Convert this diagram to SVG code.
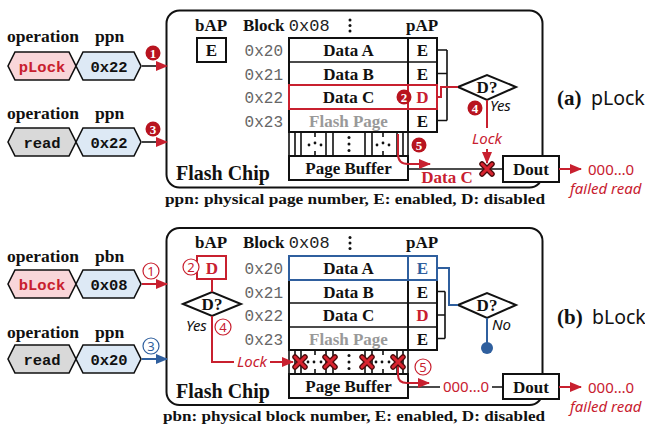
<svg xmlns="http://www.w3.org/2000/svg" width="645" height="428" viewBox="0 0 645 428">
<style>
.ser{font-family:"Liberation Serif",serif;font-weight:bold;fill:#111}
.lab{font-size:17.5px}
.hd{font-size:17px}
.cell{font-size:17px;text-anchor:middle}
.mono{font-family:"Liberation Mono",monospace;font-weight:bold;font-size:15.5px;text-anchor:middle;fill:#111}
.mn{font-family:"Liberation Mono",monospace;font-weight:normal;fill:#222}
.addr{font-family:"Liberation Mono",monospace;font-size:16px;fill:#666;text-anchor:end}
.it{font-family:"Noto Sans",sans-serif;font-style:italic;font-size:15px;fill:#111}
.sans{font-family:"Noto Sans",sans-serif}
.red{fill:#c8202f}
.blue{fill:#2f5f9e}
.gray{fill:#999}
.box{fill:#fff;stroke:#111;stroke-width:2}
.ln{fill:none;stroke:#111;stroke-width:1.6}
.rl{fill:none;stroke:#c8202f;stroke-width:2}
.bl{fill:none;stroke:#2f5f9e;stroke-width:2}
.chip{fill:#fff;stroke:#111;stroke-width:2}
.hexp{fill:#f9d6d9;stroke:#111;stroke-width:1.6}
.hexb{fill:#dde9f5;stroke:#111;stroke-width:1.6}
.hexg{fill:#d9d9d9;stroke:#111;stroke-width:1.6}
.fc{fill:#b8141f}
.fcn{font-family:"Liberation Serif",serif;font-weight:bold;font-size:13px;fill:#fff;text-anchor:middle}
.oc{fill:#fff;stroke-width:1.2}
.ocn{font-family:"Noto Sans",sans-serif;font-size:13px;text-anchor:middle}
.xo{fill:none;stroke:#4a0a0a;stroke-width:5.5;stroke-linecap:round}
.xi{fill:none;stroke:#d8232f;stroke-width:3;stroke-linecap:round}
.dot{fill:#111}
</style>
<defs>
<marker id="ar" markerUnits="userSpaceOnUse" markerWidth="12" markerHeight="10" refX="11" refY="5" orient="auto"><path d="M0,0 L12,5 L0,10 z" fill="#c8202f"/></marker>
<marker id="ab" markerUnits="userSpaceOnUse" markerWidth="12" markerHeight="10" refX="11" refY="5" orient="auto"><path d="M0,0 L12,5 L0,10 z" fill="#2f5f9e"/></marker>
<g id="xm"><path class="xo" d="M-5,-5L5,5M5,-5L-5,5"/><path class="xi" d="M-5,-5L5,5M5,-5L-5,5"/></g>
<g id="bits">
<path class="ln" d="M295,0V24M301,0V24M326,0V24M333,0V24M365,0V24M372,0V24M397,0V24M403,0V24M315,0V5M315,19V24M383,0V5M383,19V24"/>
<circle class="dot" cx="349" cy="5.5" r="1.5"/><circle class="dot" cx="349" cy="12" r="1.5"/><circle class="dot" cx="349" cy="18.5" r="1.5"/>
</g>
</defs>

<!-- ================= PANEL A ================= -->
<g id="inputs-a">
<text class="ser lab" x="7" y="42">operation</text>
<text class="ser lab" x="95" y="42">ppn</text>
<polygon class="hexp" points="8,66 15,52 69,52 76,66 69,80 15,80"/>
<text class="mono red" x="42" y="71.5">pLock</text>
<polygon class="hexb" points="76,66 83,52 134,52 141,66 134,80 83,80"/>
<text class="mono" x="109" y="71.5">0x22</text>
<text class="ser lab" x="7" y="119">operation</text>
<text class="ser lab" x="95" y="119">ppn</text>
<polygon class="hexg" points="8,142 15,128 69,128 76,142 69,156 15,156"/>
<text class="mono" x="42" y="147.5">read</text>
<polygon class="hexb" points="76,142 83,128 134,128 141,142 134,156 83,156"/>
<text class="mono" x="109" y="147.5">0x22</text>
</g>

<g id="chip-a">
<rect class="chip" x="166.5" y="10.5" width="376" height="177" rx="13"/>
<text class="ser hd" x="211" y="31" text-anchor="middle">bAP</text>
<text class="ser hd" x="243" y="31">Block <tspan class="mn">0x08</tspan></text>
<circle class="dot" cx="350" cy="20" r="1.5"/><circle class="dot" cx="350" cy="25.5" r="1.5"/><circle class="dot" cx="350" cy="31" r="1.5"/>
<text class="ser hd" x="422" y="31" text-anchor="middle">pAP</text>
<rect class="box" x="197" y="38" width="29" height="24"/>
<text class="ser cell" x="211.5" y="56">E</text>
<text class="addr" x="283" y="56">0x20</text>
<text class="addr" x="283" y="79.5">0x21</text>
<text class="addr" x="283" y="103">0x22</text>
<text class="addr" x="283" y="126.5">0x23</text>
<rect class="box" x="289" y="38" width="119" height="94"/>
<rect class="box" x="408" y="38" width="29" height="94"/>
<path class="ln" d="M289,62H437M289,85H437M289,109H437" stroke-width="2"/>
<text class="ser cell" x="348.5" y="56">Data A</text>
<text class="ser cell" x="348.5" y="79.5">Data B</text>
<text class="ser cell" x="348.5" y="103">Data C</text>
<text class="ser cell gray" x="348.5" y="126.5">Flash Page</text>
<text class="ser cell" x="422.5" y="56">E</text>
<text class="ser cell" x="422.5" y="79.5">E</text>
<text class="ser cell red" x="422.5" y="103">D</text>
<text class="ser cell" x="422.5" y="126.5">E</text>
<rect x="289" y="85" width="148" height="24" fill="none" stroke="#c8202f" stroke-width="2"/>
<path d="M408,85V109" stroke="#c8202f" stroke-width="2"/>
<circle class="fc" cx="404" cy="97" r="7.5"/><text class="fcn" x="404" y="101.5">2</text>
<path class="ln" d="M289,132V156M408,132V156"/>
<use href="#bits" y="132"/>
<circle class="dot" cx="309" cy="145" r="1.4"/><circle class="dot" cx="315" cy="143" r="1.4"/><circle class="dot" cx="321" cy="145" r="1.4"/>
<circle class="dot" cx="377" cy="145" r="1.4"/><circle class="dot" cx="383" cy="143" r="1.4"/><circle class="dot" cx="389" cy="145" r="1.4"/>
<rect class="box" x="289" y="156" width="119" height="24"/>
<text class="ser cell" x="348.5" y="174">Page Buffer</text>
<path class="ln" d="M437,50H447M437,73.5H447M437,120.5H447M447,50V120.5"/>
<polygon class="box" points="458,87 487,75 516,87 487,100"/>
<text class="ser cell" x="487" y="93">D?</text>
<text class="it" x="490" y="111" font-size="14">Yes</text>
<circle class="fc" cx="475" cy="108" r="7.5"/><text class="fcn" x="475" y="112.5">4</text>
<text class="it red" x="487" y="144" text-anchor="middle">Lock</text>
<rect class="box" x="503" y="156" width="56" height="26"/>
<text class="ser cell" x="531" y="175">Dout</text>
<text class="ser" x="176" y="180" font-size="20">Flash Chip</text>
<circle class="fc" cx="419" cy="145" r="7.5"/><text class="fcn" x="419" y="149.5">5</text>
<text class="ser cell red" x="447" y="183">Data C</text>
</g>

<g id="conn-a">
<path class="ln" d="M142,66H167" stroke="#c8202f" stroke-width="2" marker-end="url(#ar)"/>
<path class="ln" d="M142,142H167" stroke="#c8202f" stroke-width="2" marker-end="url(#ar)"/>
<path class="rl" d="M437,97H441V87H458"/>
<path class="rl" d="M487,100V128"/>
<path class="rl" d="M487,149V163" marker-end="url(#ar)"/>
<path class="ln" d="M408,169H503"/>
<path class="rl" d="M398,134V154Q398,164 408,164H430" marker-end="url(#ar)"/>
<use href="#xm" x="487" y="169"/>
<path class="rl" d="M559,169H581" marker-end="url(#ar)"/>
<circle class="fc" cx="153" cy="53" r="7.5"/><text class="fcn" x="153" y="57.5">1</text>
<circle class="fc" cx="153" cy="129" r="7.5"/><text class="fcn" x="153" y="133.5">3</text>
</g>

<g id="out-a">
<text class="sans red" x="588" y="175" font-size="15">000…0</text>
<text class="it red" x="570" y="194">failed read</text>
<text class="ser" x="557" y="105" font-size="21">(a)</text>
<text class="sans" x="591" y="105" font-size="19.5" fill="#111">pLock</text>
<text class="ser" x="165" y="204" font-size="15" textLength="380" lengthAdjust="spacingAndGlyphs">ppn: physical page number, E: enabled, D: disabled</text>
</g>

<!-- ================= PANEL B ================= -->
<g id="inputs-b">
<text class="ser lab" x="7" y="262">operation</text>
<text class="ser lab" x="95" y="262">pbn</text>
<polygon class="hexp" points="8,284 15,270 69,270 76,284 69,298 15,298"/>
<text class="mono red" x="42" y="289.5">bLock</text>
<polygon class="hexb" points="76,284 83,270 134,270 141,284 134,298 83,298"/>
<text class="mono" x="109" y="289.5">0x08</text>
<text class="ser lab" x="7" y="338">operation</text>
<text class="ser lab" x="95" y="338">ppn</text>
<polygon class="hexg" points="8,359 15,345 69,345 76,359 69,373 15,373"/>
<text class="mono" x="42" y="364.5">read</text>
<polygon class="hexb" points="76,359 83,345 134,345 141,359 134,373 83,373"/>
<text class="mono" x="109" y="364.5">0x20</text>
</g>

<g id="chip-b">
<rect class="chip" x="166.5" y="228" width="376" height="177" rx="13"/>
<text class="ser hd" x="211" y="248" text-anchor="middle">bAP</text>
<text class="ser hd" x="243" y="248">Block <tspan class="mn">0x08</tspan></text>
<circle class="dot" cx="350" cy="237.5" r="1.5"/><circle class="dot" cx="350" cy="243" r="1.5"/><circle class="dot" cx="350" cy="248.5" r="1.5"/>
<text class="ser hd" x="422" y="248" text-anchor="middle">pAP</text>
<rect x="197" y="256" width="29" height="23" fill="#fff" stroke="#c8202f" stroke-width="2"/>
<text class="ser cell red" x="212" y="273.5">D</text>
<circle class="oc" cx="191" cy="267" r="8" stroke="#c8202f"/><text class="ocn red" x="191" y="271.5">2</text>
<polygon class="box" points="183,304 212,292 241,304 212,316"/>
<text class="ser cell" x="212" y="310">D?</text>
<text class="it" x="186" y="331" font-size="14">Yes</text>
<circle class="oc" cx="223" cy="327" r="8" stroke="#c8202f"/><text class="ocn red" x="223" y="331.5">4</text>
<text class="it red" x="252" y="367" text-anchor="middle">Lock</text>
<text class="addr" x="283" y="274">0x20</text>
<text class="addr" x="283" y="297.5">0x21</text>
<text class="addr" x="283" y="321">0x22</text>
<text class="addr" x="283" y="344.5">0x23</text>
<rect class="box" x="289" y="256" width="119" height="94"/>
<rect class="box" x="408" y="256" width="29" height="94"/>
<path class="ln" d="M289,280H437M289,303H437M289,327H437" stroke-width="2"/>
<text class="ser cell" x="348.5" y="274">Data A</text>
<text class="ser cell" x="348.5" y="297.5">Data B</text>
<text class="ser cell" x="348.5" y="321">Data C</text>
<text class="ser cell gray" x="348.5" y="344.5">Flash Page</text>
<text class="ser cell blue" x="422.5" y="274">E</text>
<text class="ser cell" x="422.5" y="297.5">E</text>
<text class="ser cell red" x="422.5" y="321">D</text>
<text class="ser cell" x="422.5" y="344.5">E</text>
<rect x="289" y="256" width="148" height="24" fill="none" stroke="#2f5f9e" stroke-width="2"/>
<path d="M408,256V280" stroke="#2f5f9e" stroke-width="2"/>
<path class="ln" d="M289,350V374M408,350V374"/>
<use href="#bits" y="350"/>
<circle class="dot" cx="308" cy="362" r="1.4"/><circle class="dot" cx="314" cy="362" r="1.4"/><circle class="dot" cx="321" cy="362" r="1.4"/>
<circle class="dot" cx="376" cy="362" r="1.4"/><circle class="dot" cx="382" cy="362" r="1.4"/><circle class="dot" cx="389" cy="362" r="1.4"/>
<rect class="box" x="289" y="374" width="119" height="24"/>
<text class="ser cell" x="348.5" y="392">Page Buffer</text>
<path class="ln" d="M437,291.5H445M437,315H445M437,338.5H445M445,291.5V338.5"/>
<polygon class="box" points="458,305 487,293 516,305 487,318"/>
<text class="ser cell" x="487" y="311">D?</text>
<text class="it" x="492" y="330" font-size="14">No</text>
<circle cx="487" cy="348" r="6" fill="#2f5f9e"/>
<rect class="box" x="503" y="374" width="56" height="25"/>
<text class="ser cell" x="531" y="392.5">Dout</text>
<text class="ser" x="176" y="398" font-size="20">Flash Chip</text>
<circle class="oc" cx="423" cy="367" r="8" stroke="#c8202f"/><text class="ocn red" x="423" y="371.5">5</text>
<text class="sans red" x="466" y="392" font-size="15" text-anchor="middle">000…0</text>
</g>

<g id="conn-b">
<path class="rl" d="M142,284H167" marker-end="url(#ar)"/>
<path class="bl" d="M142,359H167" marker-end="url(#ab)"/>
<circle class="oc" cx="151" cy="271" r="8" stroke="#c8202f"/><text class="ocn red" x="151" y="275.5">1</text>
<circle class="oc" cx="151" cy="346" r="8" stroke="#2f5f9e"/><text class="ocn blue" x="151" y="350.5">3</text>
<path class="rl" d="M212,279V292"/>
<path class="rl" d="M212,316V362H234"/>
<path class="rl" d="M270,362H293" marker-end="url(#ar)"/>
<path class="bl" d="M437,268H449V305H458"/>
<path class="bl" d="M487,318V345"/>
<path class="ln" d="M408,387H440M492,387H503"/>
<path class="rl" d="M398,366V375Q398,383 407,383H429" marker-end="url(#ar)"/>
<use href="#xm" x="300" y="362"/>
<use href="#xm" x="330" y="362"/>
<use href="#xm" x="367" y="362"/>
<use href="#xm" x="398" y="362"/>
<path class="rl" d="M559,387H581" marker-end="url(#ar)"/>
</g>

<g id="out-b">
<text class="sans red" x="588" y="393" font-size="15">000…0</text>
<text class="it red" x="570" y="412">failed read</text>
<text class="ser" x="557" y="324" font-size="21">(b)</text>
<text class="sans" x="592" y="324" font-size="19.5" fill="#111">bLock</text>
<text class="ser" x="163" y="421" font-size="15" textLength="382" lengthAdjust="spacingAndGlyphs">pbn: physical block number, E: enabled, D: disabled</text>
</g>
</svg>
